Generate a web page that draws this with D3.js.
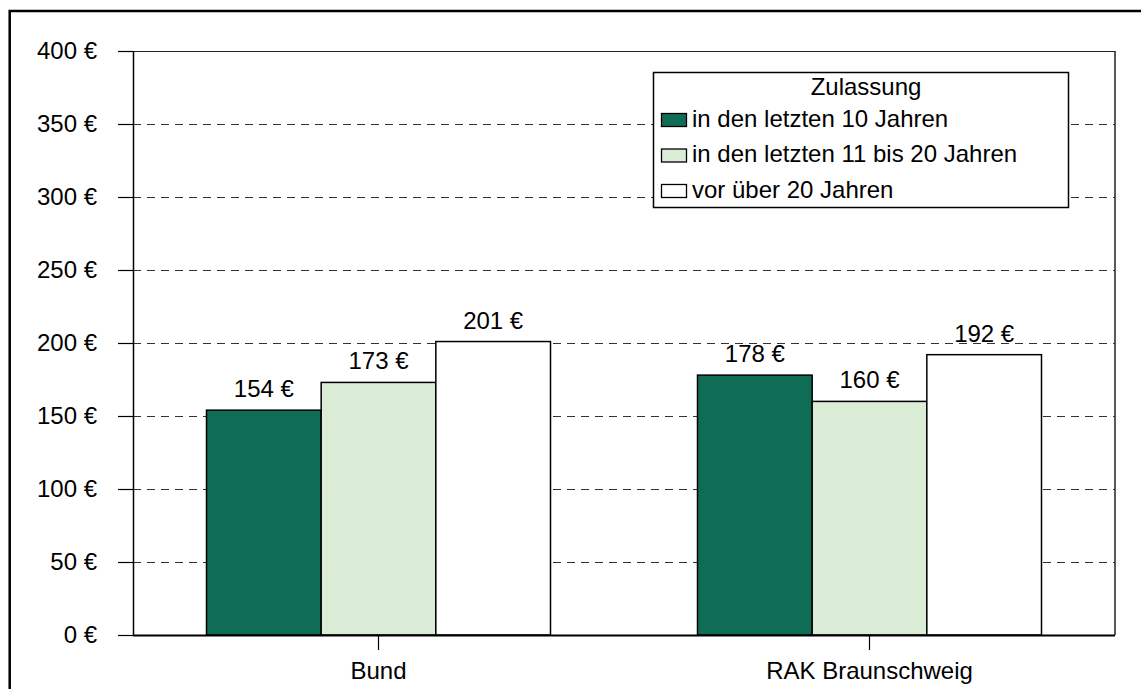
<!DOCTYPE html>
<html>
<head>
<meta charset="utf-8">
<script src="https://cdn.jsdelivr.net/npm/d3@7"></script>
<style>
  html, body { margin: 0; padding: 0; background: #fff; }
  svg { display: block; font-family: "Liberation Sans", Arial, sans-serif; }
</style>
</head>
<body>
<svg id="chart" width="1141" height="689"></svg>
<script>
const categories = ["Bund", "RAK Braunschweig"];
const seriesNames = ["in den letzten 10 Jahren", "in den letzten 11 bis 20 Jahren", "vor über 20 Jahren"];
const seriesColors = ["#0F6D55", "#DAEBD6", "#FFFFFF"];
const valuesRecent = [154, 178];
const valuesMid = [173, 160];
const valuesOld = [201, 192];
const yTicks = [0, 50, 100, 150, 200, 250, 300, 350, 400];
const legendTitle = "Zulassung";

(function () {
const seriesValues = [valuesRecent, valuesMid, valuesOld];
const data = categories.map((c, i) => ({
  category: c,
  values: seriesNames.map((s, j) => ({ series: s, idx: j, value: seriesValues[j][i] }))
}));

const svg = d3.select("#chart");
const pLeft = 133, pRight = 1115, pTop = 51, pBottom = 635;
const FS = 24;

// outer frame
svg.append("rect").attr("x", 9.7).attr("y", 11).attr("width", 1160).attr("height", 700)
  .attr("fill", "none").attr("stroke", "#000").attr("stroke-width", 2.5);

const y = d3.scaleLinear().domain([0, 400]).range([pBottom, pTop]);
const x0 = d3.scaleBand().domain(categories).range([pLeft, pRight]).padding(0);
const x1 = d3.scaleBand().domain(d3.range(seriesNames.length)).range([0, x0.bandwidth()])
  .paddingInner(0).paddingOuter(0.641);

// gridlines
svg.append("g").selectAll("line").data(yTicks.filter(t => t > 0 && t < 400)).join("line")
  .attr("x1", pLeft).attr("x2", pRight)
  .attr("y1", d => Math.round(y(d)) + 0.5).attr("y2", d => Math.round(y(d)) + 0.5)
  .attr("stroke", "#333").attr("stroke-width", 1).attr("stroke-dasharray", "8,6");

// plot border (top + right)
svg.append("line").attr("x1", pLeft).attr("x2", pRight).attr("y1", pTop + 0.5).attr("y2", pTop + 0.5)
  .attr("stroke", "#222").attr("stroke-width", 1.2);
svg.append("line").attr("x1", pRight).attr("x2", pRight).attr("y1", pTop).attr("y2", pBottom)
  .attr("stroke", "#222").attr("stroke-width", 1.5);

// bars
const groups = svg.append("g").selectAll("g").data(data).join("g")
  .attr("transform", d => `translate(${x0(d.category)},0)`);
groups.selectAll("rect").data(d => d.values).join("rect")
  .attr("x", d => x1(d.idx))
  .attr("y", d => y(d.value))
  .attr("width", x1.bandwidth())
  .attr("height", d => y(0) - y(d.value))
  .attr("fill", d => seriesColors[d.idx])
  .attr("stroke", "#000").attr("stroke-width", 1.5);
groups.selectAll("text").data(d => d.values).join("text")
  .attr("x", d => x1(d.idx) + x1.bandwidth() / 2)
  .attr("y", d => y(d.value) - 13)
  .attr("text-anchor", "middle")
  .attr("font-size", FS).attr("fill", "#000")
  .text(d => d.value + " €");

// y axis
const yAxis = svg.append("g").attr("transform", `translate(${pLeft},0)`)
  .call(d3.axisLeft(y).tickValues(yTicks).tickSize(15).tickPadding(21).tickFormat(d => d + " €"));
yAxis.select(".domain").attr("stroke", "#000").attr("stroke-width", 1.5).attr("d", `M0.5,${pTop}V${pBottom}`);
yAxis.selectAll(".tick line").attr("stroke", "#000").attr("stroke-width", 1.2);
yAxis.selectAll(".tick text").attr("font-size", FS).attr("fill", "#000")
  .attr("font-family", "Liberation Sans, Arial, sans-serif");

// x axis
const xAxis = svg.append("g").attr("transform", `translate(0,${pBottom})`)
  .call(d3.axisBottom(x0).tickSize(15).tickPadding(12));
xAxis.select(".domain").attr("stroke", "#000").attr("stroke-width", 2).attr("d", `M${pLeft},0.5H${pRight}`);
xAxis.selectAll(".tick line").attr("stroke", "#000").attr("stroke-width", 1.2);
xAxis.selectAll(".tick text").attr("font-size", FS).attr("fill", "#000")
  .attr("font-family", "Liberation Sans, Arial, sans-serif");

// legend
const lg = svg.append("g");
lg.append("rect").attr("x", 653.5).attr("y", 72.5).attr("width", 415).attr("height", 135)
  .attr("fill", "#fff").attr("stroke", "#000").attr("stroke-width", 1.5);
lg.append("text").attr("x", 866).attr("y", 95).attr("text-anchor", "middle")
  .attr("font-size", FS).attr("fill", "#000").text(legendTitle);
const rows = lg.selectAll("g.row").data(seriesNames).join("g").attr("class", "row")
  .attr("transform", (d, i) => `translate(0,${126.5 + i * 35.5})`);
rows.append("rect").attr("x", 661.5).attr("y", -13).attr("width", 25).attr("height", 13)
  .attr("fill", (d, i) => seriesColors[i]).attr("stroke", "#000").attr("stroke-width", 1.3);
rows.append("text").attr("x", 692).attr("y", 0).attr("font-size", FS).attr("fill", "#000").text(d => d);
})();
</script>
</body>
</html>
